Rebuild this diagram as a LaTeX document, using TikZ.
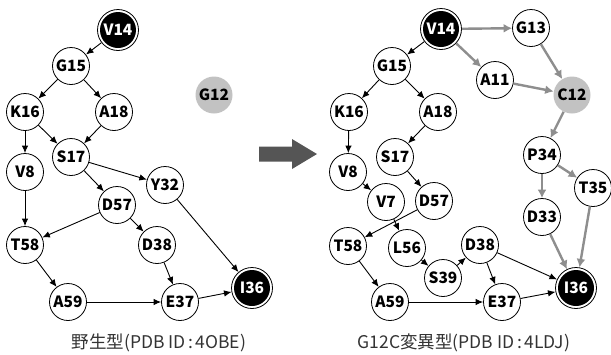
\documentclass[tikz,border=0pt]{standalone}
\usepackage{fontspec}
\setmainfont{Noto Sans CJK JP}
\usetikzlibrary{arrows.meta}
\definecolor{edgegray}{HTML}{8E8E8E}
\definecolor{nodegray}{HTML}{C2C2C2}
\definecolor{bigarrow}{HTML}{555555}
\definecolor{captext}{HTML}{333333}
\tikzset{
  x=1pt, y=-1pt,
  lblfont/.style={font=\fontsize{15.5}{16}\selectfont\bfseries},
  res/.style={circle, draw=black, line width=0.8pt, fill=white, minimum size=37pt, inner sep=0pt, lblfont},
  hub/.style={circle, draw=black, line width=0.8pt, fill=white, minimum size=41pt, inner sep=0pt, text=white, lblfont,
    path picture={\fill[black] (path picture bounding box.center) circle (18pt);}},
  mut/.style={circle, fill=nodegray, minimum size=37pt, inner sep=0pt, lblfont},
  blk/.style={draw=black, line width=0.9pt, -{Latex[length=7.5pt,width=6.5pt]}},
  gry/.style={draw=edgegray, line width=2.4pt, -{Latex[length=8.5pt,width=9pt]}},
  captext/.style={font=\fontsize{17.5}{19}\selectfont, text=captext, inner sep=0pt}
}
\begin{document}
\begin{tikzpicture}
\useasboundingbox (0,0) rectangle (611,354);
% ---------- left: wild type ----------
\node[hub] (lV14) at (118,30) {V14};
\node[res] (lG15) at (71,66) {G15};
\node[res] (lK16) at (25,112) {K16};
\node[res] (lA18) at (114,112) {A18};
\node[mut] (lG12) at (214,95) {G12};
\node[res] (lS17) at (71,157) {S17};
\node[res] (lV8) at (25,172) {V8};
\node[res] (lY32) at (165,185) {Y32};
\node[res] (lD57) at (117,205) {D57};
\node[res] (lT58) at (25,245) {T58};
\node[res] (lD38) at (157,245) {D38};
\node[res] (lA59) at (68,302) {A59};
\node[res] (lE37) at (180,302) {E37};
\node[hub] (lI36) at (252,288) {I36};
\node[captext] (lcap) at (159,343) {野生型(PDB ID\kern2.5pt:\kern2.5pt4OBE)};
\draw[blk] (lV14) -- (lG15);
\draw[blk] (lG15) -- (lK16);
\draw[blk] (lG15) -- (lA18);
\draw[blk] (lK16) -- (lV8);
\draw[blk] (lK16) -- (lS17);
\draw[blk] (lA18) -- (lS17);
\draw[blk] (lS17) -- (lY32);
\draw[blk] (lS17) -- (lD57);
\draw[blk] (lV8) -- (lT58);
\draw[blk] (lD57) -- (lT58);
\draw[blk] (lD57) -- (lD38);
\draw[blk] (lY32) -- (lI36);
\draw[blk] (lD38) -- (lE37);
\draw[blk] (lT58) -- (lA59);
\draw[blk] (lA59) -- (lE37);
\draw[blk] (lE37) -- (lI36);
% ---------- big arrow ----------
\fill[bigarrow] (259,146.5) -- (292,146.5) -- (292,139) -- (317,154) -- (292,169) -- (292,161.5) -- (259,161.5) -- cycle;
% ---------- right: G12C mutant ----------
\node[hub] (rV14) at (441,29) {V14};
\node[res] (rG13) at (531,28) {G13};
\node[res] (rG15) at (392,66) {G15};
\node[res] (rA11) at (495,80) {A11};
\node[mut] (rC12) at (572,95) {C12};
\node[res] (rK16) at (349,112) {K16};
\node[res] (rA18) at (438,112) {A18};
\node[res] (rS17) at (395,157) {S17};
\node[res] (rP34) at (542,155) {P34};
\node[res] (rV8) at (348,172) {V8};
\node[res] (rT35) at (593,188) {T35};
\node[res] (rV7) at (386,202) {V7};
\node[res] (rD57) at (434,201) {D57};
\node[res] (rD33) at (542,217) {D33};
\node[res] (rT58) at (348,246) {T58};
\node[res] (rL56) at (407,248) {L56};
\node[res] (rD38) at (480,245) {D38};
\node[res] (rS39) at (443,278) {S39};
\node[hub] (rI36) at (576,288) {I36};
\node[res] (rA59) at (390,302) {A59};
\node[res] (rE37) at (502,302) {E37};
\node[captext] (rcap) at (464,343) {G12C変異型(PDB ID\kern2.5pt:\kern2.5pt4LDJ)};
\draw[gry] (rV14) -- (rG13);
\draw[gry] (rV14) -- (rA11);
\draw[gry] (rG13) -- (rC12);
\draw[gry] (rA11) -- (rC12);
\draw[gry] (rC12) -- (rP34);
\draw[gry] (rP34) -- (rD33);
\draw[gry] (rP34) -- (rT35);
\draw[gry] (rD33) -- (rI36);
\draw[gry] (rT35) -- (rI36);
\draw[blk] (rV14) -- (rG15);
\draw[blk] (rG15) -- (rK16);
\draw[blk] (rG15) -- (rA18);
\draw[blk] (rK16) -- (rV8);
\draw[blk] (rA18) -- (rS17);
\draw[blk] (rS17) -- (rD57);
\draw[blk] (rV8) -- (rV7);
\draw[blk] (rD57) -- (rT58);
\draw[blk] (rV7) -- (rL56);
\draw[blk] (rL56) -- (rS39);
\draw[blk] (rS39) -- (rD38);
\draw[blk] (rD38) -- (rE37);
\draw[blk] (rD38) -- (rI36);
\draw[blk] (rT58) -- (rA59);
\draw[blk] (rA59) -- (rE37);
\draw[blk] (rE37) -- (rI36);
\end{tikzpicture}
\end{document}
